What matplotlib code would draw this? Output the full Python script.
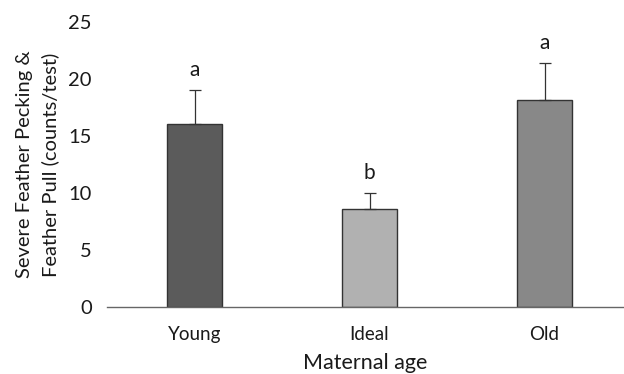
import matplotlib
matplotlib.use("Agg")
import matplotlib.pyplot as plt

groups = ["Young", "Ideal", "Old"]
means = [16.1, 8.6, 18.2]
upper_err = [2.9, 1.4, 3.2]
letters = ["a", "b", "a"]
bar_colors = ["#5b5b5b", "#b1b1b1", "#888888"]
yticks = [0, 5, 10, 15, 20, 25]

plt.rcParams["font.family"] = ["Lato", "DejaVu Sans"]

fig = plt.figure(figsize=(6.24, 3.74), dpi=100)
ax = fig.add_axes([0.1715, 0.179, 0.8285, 0.762])

x = list(range(len(groups)))
ax.bar(x, means, width=0.315, color=bar_colors, edgecolor="#333333",
       linewidth=1.0, zorder=2)
ax.errorbar(x, means, yerr=[[0] * len(means), upper_err], fmt="none",
            ecolor="#333333", elinewidth=0.9, capsize=4.5, capthick=0.9,
            zorder=3)

for xi, m, e, lab in zip(x, means, upper_err, letters):
    ax.text(xi, m + e + 1.8, lab, ha="center", va="center",
            fontsize=15, color="#1a1a1a")

ax.set_xlim(-0.5, 2.454)
ax.set_ylim(0, 25)
ax.set_yticks(yticks)
ax.set_xticks(x)
ax.set_xticklabels(groups)

for side in ["top", "right", "left"]:
    ax.spines[side].set_visible(False)
ax.spines["bottom"].set_color("#666666")
ax.spines["bottom"].set_linewidth(1.0)
ax.tick_params(axis="both", length=0, colors="#1a1a1a")
ax.tick_params(axis="y", pad=11, labelsize=14.5)
ax.tick_params(axis="x", pad=14, labelsize=13.5)

ax.set_xlabel("Maternal age", fontsize=15.5, color="#1a1a1a", labelpad=7)
ax.set_ylabel("Severe Feather Pecking &\nFeather Pull (counts/test)",
              fontsize=14.5, color="#1a1a1a", linespacing=1.6)
ax.yaxis.set_label_coords(-0.092, 0.5)

fig.savefig("out.png", dpi=100)
